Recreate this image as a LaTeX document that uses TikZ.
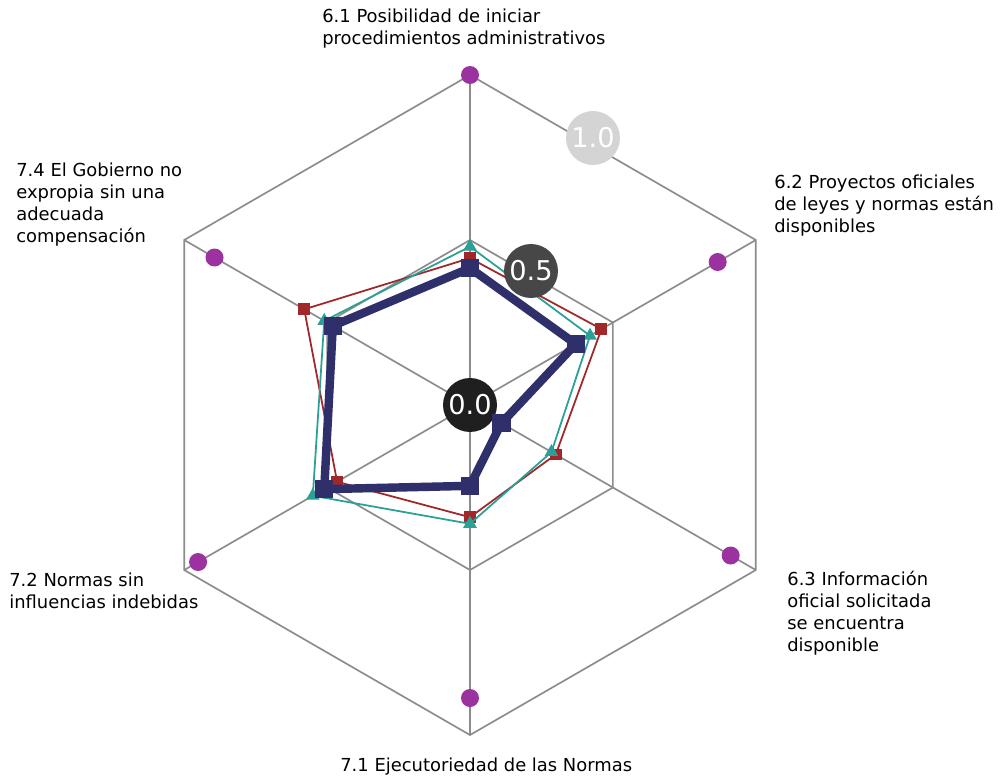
\documentclass[tikz,border=0pt]{standalone}
\usepackage{fontspec}
\setmainfont{DejaVu Sans}
\usetikzlibrary{shapes.geometric}

\definecolor{webgray}{RGB}{140,140,140}
\definecolor{dotpurple}{RGB}{155,50,160}
\definecolor{serred}{RGB}{160,40,42}
\definecolor{serteal}{RGB}{42,160,150}
\definecolor{sernavy}{RGB}{46,47,107}

\tikzset{
  webline/.style={draw=webgray,line width=0.95pt},
  axislabel/.style={anchor=north west,inner sep=0pt,align=left,
    font=\fontsize{10.2}{12.5}\selectfont},
  badge/.style={circle,minimum size=1.08cm,inner sep=0pt,text=white,
    font=\fontsize{15.5}{15.5}\selectfont},
  axisdot/.style={circle,fill=dotpurple,minimum size=0.36cm,inner sep=0pt},
  redline/.style={draw=serred,line width=1pt,line join=round},
  tealline/.style={draw=serteal,line width=1pt,line join=round},
  navyline/.style={draw=sernavy,line width=4.8pt,line join=round},
  markred/.style={rectangle,fill=serred,minimum size=6.8pt,inner sep=0pt},
  markteal/.style={regular polygon,regular polygon sides=3,fill=serteal,
    minimum size=9pt,inner sep=0pt},
  marknavy/.style={rectangle,fill=sernavy,minimum size=10.5pt,inner sep=0pt}
}

\begin{document}
\begin{tikzpicture}[x=0.02cm,y=0.02cm]
	\path[use as bounding box,fill=white] (-470,-377) rectangle (530,405);

	% web
	\draw[webline] (90:330) \foreach \a in {30,-30,-90,210,150} {-- (\a:330)} -- cycle;
	\draw[webline] (90:165) \foreach \a in {30,-30,-90,210,150} {-- (\a:165)} -- cycle;
	\foreach \a in {90,30,-30,-90,210,150}
		\draw[webline] (0,0) -- (\a:330);

	% axis dots
	\foreach \a/\r [count=\i] in {90/330,30/286,-30/301,-90/293,210/314,150/295}
		\node[axisdot] (dot\i) at (\a:\r) {};

	% axis labels
	\node[axislabel] (ax61) at (-148,396) {6.1 Posibilidad de iniciar\\procedimientos administrativos};
	\node[axislabel] (ax62) at (304,230) {6.2 Proyectos oficiales\\de leyes y normas están\\disponibles};
	\node[axislabel] (ax63) at (317,-166) {6.3 Información\\oficial solicitada\\se encuentra\\disponible};
	\node[axislabel] (ax71) at (-130,-353) {7.1 Ejecutoriedad de las Normas};
	\node[axislabel] (ax72) at (-461,-168) {7.2 Normas sin\\influencias indebidas};
	\node[axislabel] (ax74) at (-454,242) {7.4 El Gobierno no\\expropia sin una\\adecuada\\compensación};

	% series
	\foreach \a/\v [count=\i] in {90/.445,30/.46,-30/.30,-90/.34,210/.465,150/.58}
		\coordinate (r\i) at (\a:{\v*330});
	\foreach \a/\v [count=\i] in {90/.48,30/.42,-30/.285,-90/.36,210/.55,150/.51}
		\coordinate (t\i) at (\a:{\v*330});
	\foreach \a/\v [count=\i] in {90/.415,30/.37,-30/.11,-90/.245,210/.51,150/.48}
		\coordinate (n\i) at (\a:{\v*330});

	\draw[redline] (r1) -- (r2) -- (r3) -- (r4) -- (r5) -- (r6) -- cycle;
	\foreach \i in {1,...,6}
		\node[markred] (rm\i) at (r\i) {};
	\draw[tealline] (t1) -- (t2) -- (t3) -- (t4) -- (t5) -- (t6) -- cycle;
	\foreach \i in {1,...,6}
		\node[markteal] (tm\i) at (t\i) {};

	% level badges
	\node[badge,fill=black!88] (lev0) at (0,0) {0.0};
	\node[badge,fill=black!72] (lev5) at (61,134) {0.5};
	\node[badge,fill=black!17] (lev10) at (123,267) {1.0};

	\draw[navyline] (n1) -- (n2) -- (n3) -- (n4) -- (n5) -- (n6) -- cycle;
	\foreach \i in {1,...,6}
		\node[marknavy] (nm\i) at (n\i) {};
\end{tikzpicture}
\end{document}
